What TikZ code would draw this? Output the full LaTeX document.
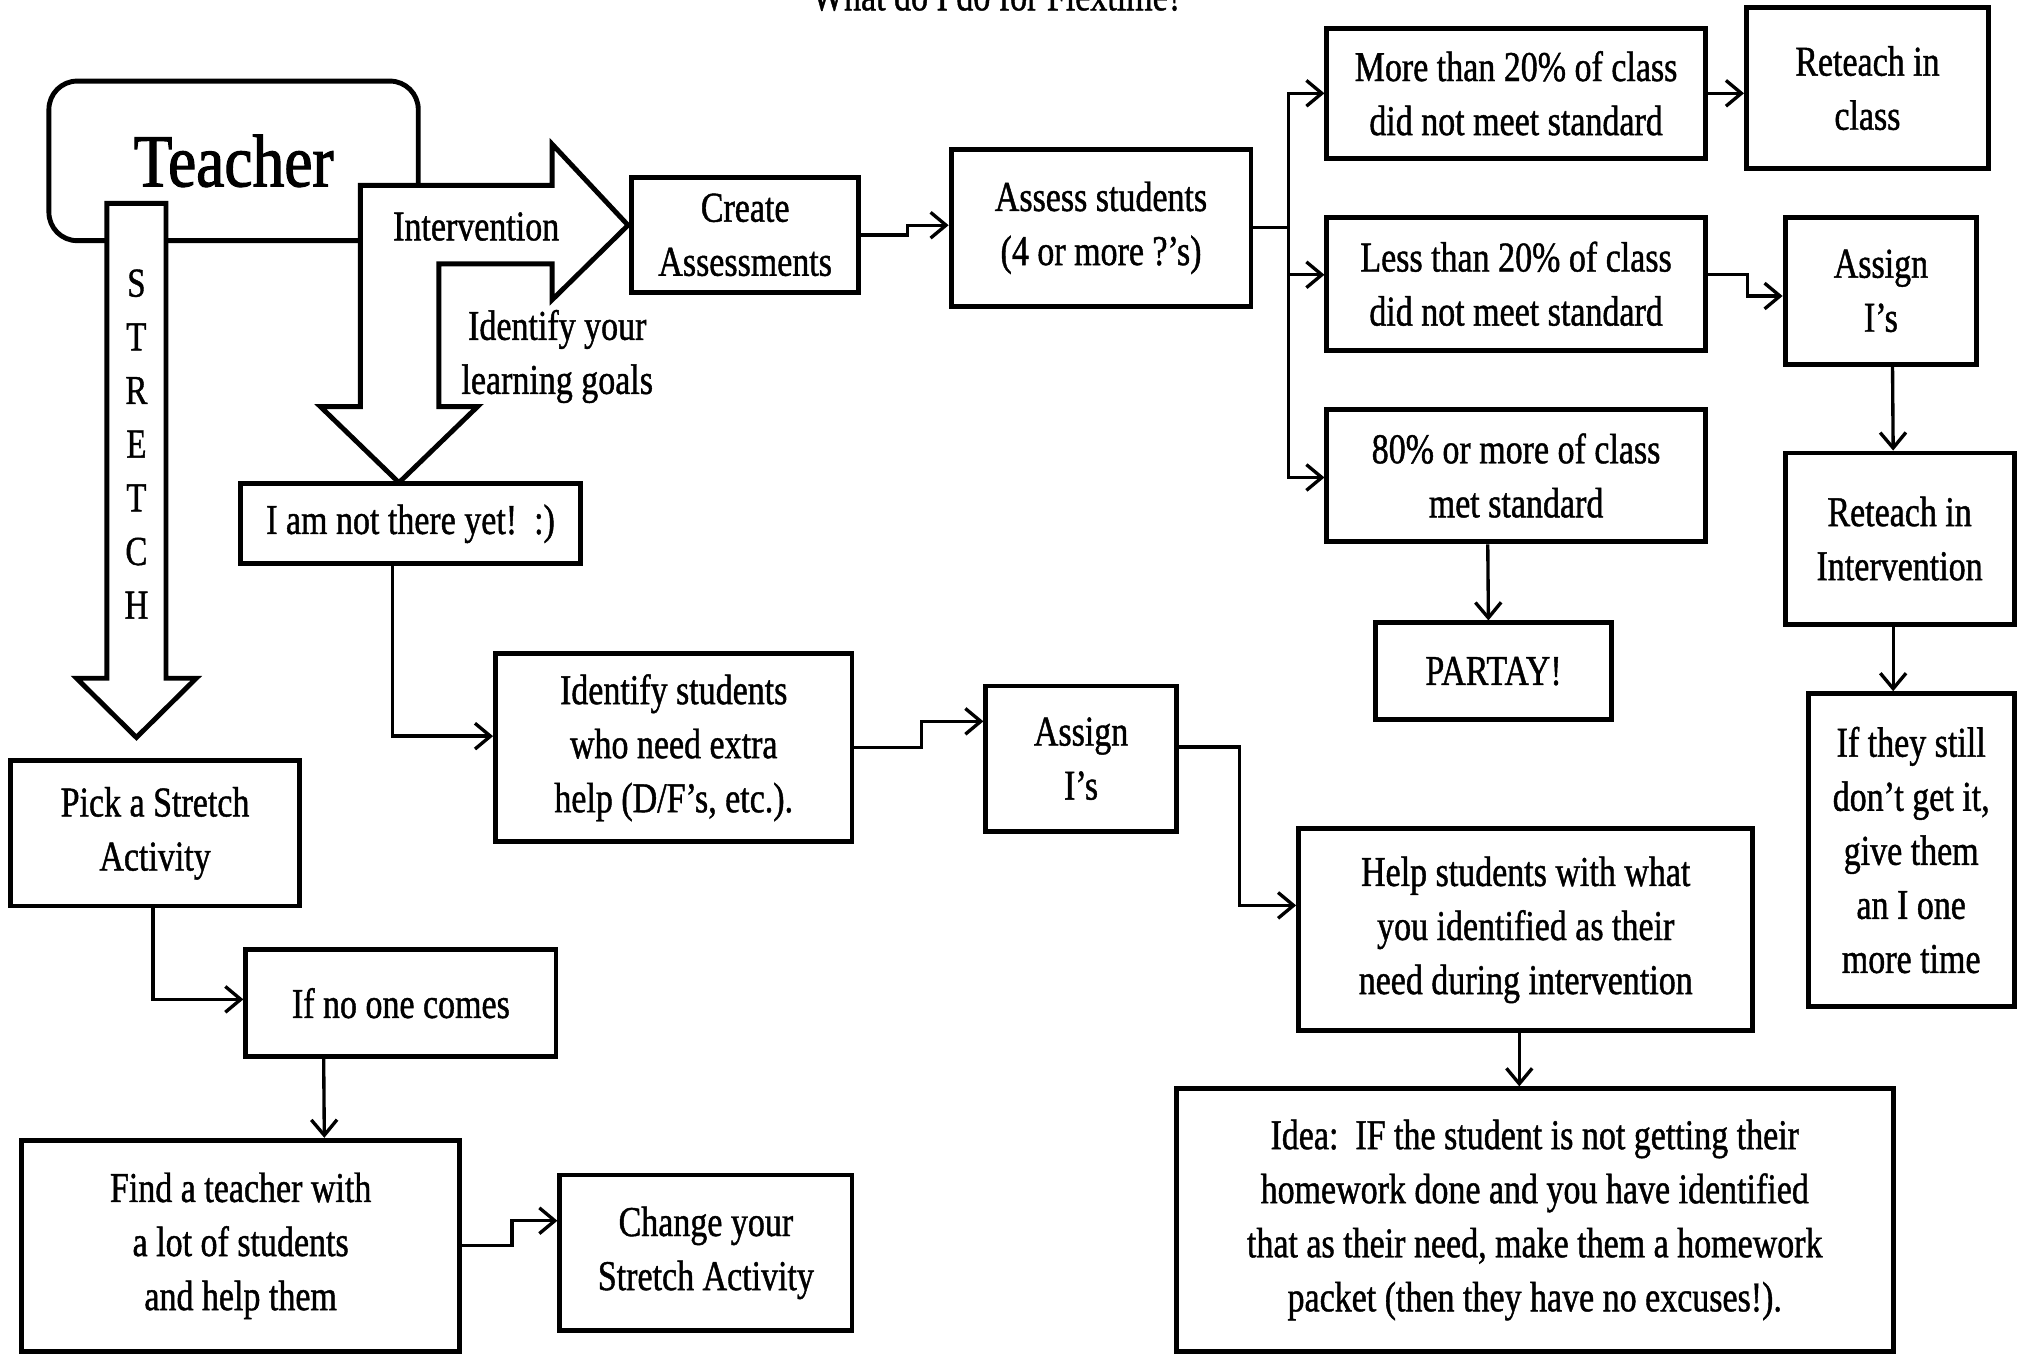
\documentclass[tikz,border=0pt]{standalone}
\usepackage{fontspec}
\setmainfont{Liberation Serif}[FakeStretch=0.8,FakeBold=1]
\newfontfamily\bigfont{Liberation Serif}[FakeStretch=0.85,FakeBold=1.5]
\usetikzlibrary{arrows.meta}
\begin{document}
\begin{tikzpicture}[x=1pt,y=-1pt,
  box/.style={draw, line width=3.8pt, fill=white, align=center, inner sep=0pt,
    font=\fontsize{33}{42}\selectfont},
  txt/.style={align=center, inner sep=0pt, font=\fontsize{33}{42}\selectfont},
  conn/.style={line width=2.6pt, -{Straight Barb[length=12pt,width=20pt]}},
  plain/.style={line width=2.6pt},
  bigarrow/.style={draw, line width=3.8pt, fill=white, line join=miter}]
\fill[white] (0,0) rectangle (1568,1052);
\useasboundingbox (0,0) rectangle (1568,1052);

% title (mostly cut off at top)
\node[anchor=base, inner sep=0pt, font=\fontsize{33}{42}\selectfont] (title) at (775,8) {What do I do for Flextime?};

% Teacher box
\node[draw, line width=3.8pt, rounded corners=22pt, minimum width=287pt, minimum height=124pt,
  inner sep=0pt, font=\bigfont\fontsize{58}{60}\selectfont] (teacher) at (181.5,125) {\raisebox{-4pt}{Teacher}};

% STRETCH arrow
\path[bigarrow] (83,158) -- (129,158) -- (129,527) -- (152.5,527) -- (106,573) -- (59.5,527) -- (83,527) -- cycle;
\node[txt, font=\fontsize{32}{41.7}\selectfont] (stretch) at (106,345) {S\\T\\R\\E\\T\\C\\H};

% Intervention arrow
\path[bigarrow] (280,144) -- (429,144) -- (429,112) -- (488,175) -- (429,233) -- (429,205) -- (341,205)
  -- (341,316) -- (371,316) -- (310,375) -- (249,316) -- (280,316) -- cycle;
\node[txt] (interv) at (370,176) {Intervention};
\node[txt] (goals) at (433,277) {Identify your\\learning goals};

% boxes
\node[box, minimum width=176pt, minimum height=89pt] (create) at (579,182.5) {Create\\Assessments};
\node[box, minimum width=233pt, minimum height=122pt] (assess) at (855.5,177) {Assess students\\(4 or more ?'s)};
\node[box, minimum width=294pt, minimum height=101pt] (more) at (1178,72.5) {More than 20\% of class\\did not meet standard};
\node[box, minimum width=188pt, minimum height=125pt] (rclass) at (1451,68.5) {Reteach in\\class};
\node[box, minimum width=294pt, minimum height=103pt] (less) at (1178,220.5) {Less than 20\% of class\\did not meet standard};
\node[box, minimum width=149pt, minimum height=114pt] (assignR) at (1461.5,226) {Assign\\I's};
\node[box, minimum width=294pt, minimum height=103pt] (met) at (1178,369.5) {80\% or more of class\\met standard};
\node[box, minimum width=178pt, minimum height=133pt] (rint) at (1476,418.5) {Reteach in\\Intervention};
\node[box, minimum width=183pt, minimum height=75pt] (partay) at (1160.5,521.5) {PARTAY!};
\node[box, minimum width=160pt, minimum height=243pt] (still) at (1485,660.5) {If they still\\don't get it,\\give them\\an I one\\more time};
\node[box, minimum width=353pt, minimum height=157pt] (help) at (1185.5,722.5) {Help students with what\\you identified as their\\need during intervention};
\node[box, minimum width=557pt, minimum height=204pt] (idea) at (1192.5,948) {Idea:\ \ IF the student is not getting their\\homework done and you have identified\\that as their need, make them a homework\\packet (then they have no excuses!).};
\node[box, minimum width=148pt, minimum height=113pt] (assignM) at (840,589.5) {Assign\\I's};
\node[box, minimum width=277pt, minimum height=146pt] (ident) at (523.5,581) {Identify students\\who need extra\\help (D/F's, etc.).};
\node[box, minimum width=264pt, minimum height=62pt] (notyet) at (319,407) {I am not there yet!\ \ :)};
\node[box, minimum width=225pt, minimum height=113pt] (pick) at (120.5,647.5) {Pick a Stretch\\Activity};
\node[box, minimum width=241pt, minimum height=83pt] (ifno) at (311.5,779.5) {If no one comes};
\node[box, minimum width=340pt, minimum height=164pt] (find) at (187,968) {Find a teacher with\\a lot of students\\and help them};
\node[box, minimum width=227pt, minimum height=121pt] (change) at (548.5,973.5) {Change your\\Stretch Activity};

% connectors
\draw[conn] (create.east) -- ++(36,0) |- ([yshift=2pt]assess.west);
\coordinate (fork) at (1001,177);
\draw[plain] (assess.east) -- (fork);
\draw[conn] (fork) |- (more.west);
\draw[conn] (fork) |- ([yshift=7pt]less.west);
\draw[conn] (fork) |- ([yshift=-1.5pt]met.west);
\draw[conn] (more.east) -- (rclass.west |- more.east);
\draw[conn] ([yshift=7pt]less.east) -- ++(31,0) |- ([yshift=-4pt]assignR.west);
\draw[conn] ([xshift=9pt]assignR.south) -- ([xshift=-5pt]rint.north);
\draw[conn] ([xshift=-5pt]rint.south) -- ([xshift=-14pt]still.north);
\draw[conn] ([xshift=-22pt]met.south) -- ([xshift=-4pt]partay.north);
\draw[conn] ([xshift=-14pt]notyet.south) |- ([yshift=9pt]ident.west);
\draw[conn] (ident.east) -- ++(52,0) |- ([yshift=29pt]assignM.west);
\draw[conn] ([yshift=9pt]assignM.east) -- ++(47,0) |- ([yshift=19pt]help.west);
\draw[conn] ([xshift=-5pt]help.south) -- ([xshift=-12pt]idea.north);
\draw[conn] ([xshift=-1.5pt]pick.south) |- ([yshift=3pt]ifno.west);
\draw[conn] ([xshift=-60pt]ifno.south) -- ([xshift=65pt]find.north);
\draw[conn] (find.east) -- ++(39,0) |- ([yshift=25pt]change.west);
\end{tikzpicture}
\end{document}
